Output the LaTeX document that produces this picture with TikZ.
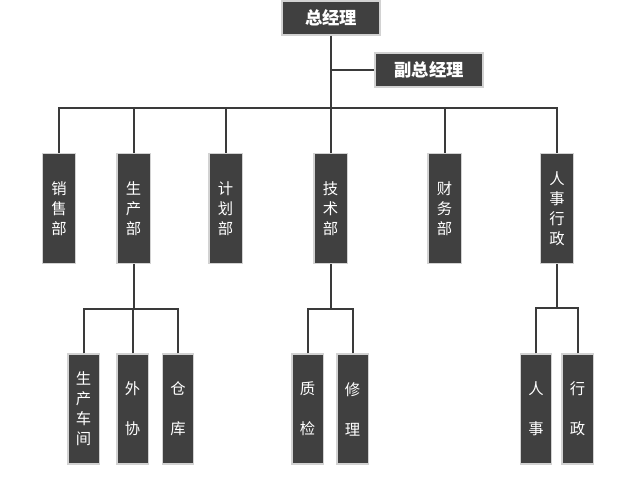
\documentclass[tikz,border=0pt]{standalone}
\usepackage{fontspec}
\setmainfont{Noto Sans CJK SC}
\usepackage{xcolor}
\usetikzlibrary{positioning}

\definecolor{boxgray}{HTML}{404040}
\definecolor{linegray}{HTML}{3A3A3A}

\begin{document}
\begin{tikzpicture}[x=0.75pt, y=-0.75pt,
    head/.style={draw=gray!35, line width=1pt, fill=boxgray, text=white,
                 font=\fontsize{13}{15}\selectfont\bfseries,
                 minimum height=25.5pt, inner sep=0pt},
    dept/.style={draw=gray!35, line width=1pt, fill=boxgray, text=white,
                 minimum width=25pt, minimum height=82.5pt, inner sep=0pt,
                 align=center, font=\fontsize{11.5}{15}\selectfont},
    sub/.style={dept, minimum width=23.5pt},
    wide/.style={font=\fontsize{11.5}{30}\selectfont},
    link/.style={draw=linegray, line width=1.5pt}
]
\useasboundingbox (0,0) rectangle (640,484);

% top
\node[head, minimum width=73.5pt] (gm) at (331,18) {总经理};
\node[head, minimum width=81pt] (vgm) at (429,70) {副总经理};

% departments
\node[dept] (sales) at (59,208.5) {销\\售\\部};
\node[dept] (prod)  at (133.5,208.5) {生\\产\\部};
\node[dept] (plan)  at (225.5,208.5) {计\\划\\部};
\node[dept] (tech)  at (330.5,208.5) {技\\术\\部};
\node[dept] (fin)   at (444.5,208.5) {财\\务\\部};
\node[dept] (hr)    at (557,208.5) {人\\事\\行\\政};

% sub units
\node[sub] (shop)   at (83.5,409) {生\\产\\车\\间};
\node[sub, wide] (out)    at (132.5,409) {外\\协};
\node[sub, wide] (store)  at (178,409) {仓\\库};
\node[sub, wide] (qc)     at (307.5,409) {质\\检};
\node[sub, wide] (repair) at (352.5,409) {修\\理};
\node[sub, wide] (staff)  at (536,409) {人\\事};
\node[sub, wide] (admin)  at (577.5,409) {行\\政};

% buses
\coordinate (bus)  at (331,108);
\coordinate (busp) at (133.5,309);
\coordinate (bust) at (330.5,309);
\coordinate (bush) at (557,308);

\draw[link] (gm.south) -- (bus);
\draw[link] (gm.south |- vgm.west) -- (vgm.west);
\foreach \d in {sales,prod,plan,tech,fin,hr}
  \draw[link] (\d.north) |- (bus);

\draw[link] (prod.south) -- (busp);
\foreach \s in {shop,out,store}
  \draw[link] (\s.north) |- (busp);

\draw[link] (tech.south) -- (bust);
\foreach \s in {qc,repair}
  \draw[link] (\s.north) |- (bust);

\draw[link] (hr.south) -- (bush);
\foreach \s in {staff,admin}
  \draw[link] (\s.north) |- (bush);
\end{tikzpicture}
\end{document}
